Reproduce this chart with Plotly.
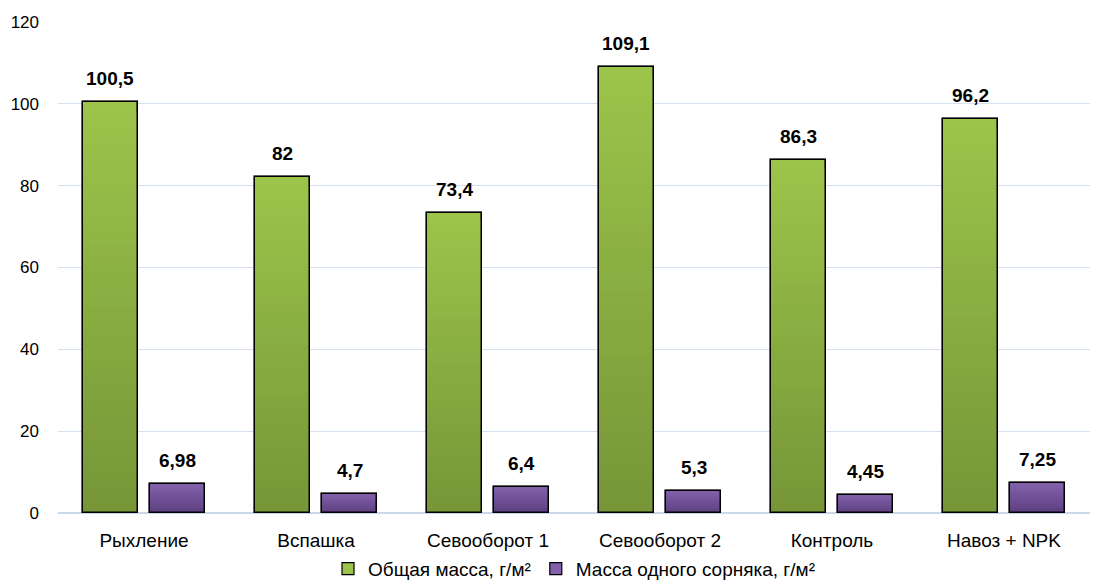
import plotly.graph_objects as go

categories = ["Рыхление", "Вспашка", "Севооборот 1", "Севооборот 2", "Контроль", "Навоз + NPK"]
total_mass = [100.5, 82, 73.4, 109.1, 86.3, 96.2]
single_weed_mass = [6.98, 4.7, 6.4, 5.3, 4.45, 7.25]
y_ticks = [0, 20, 40, 60, 80, 100, 120]

series = [
    dict(name="Общая масса, г/м²", values=total_mass,
         top=(156, 196, 74), bottom=(118, 150, 56), offset=-0.195),
    dict(name="Масса одного сорняка, г/м²", values=single_weed_mass,
         top=(130, 97, 170), bottom=(92, 63, 128), offset=0.195),
]

FONT = "Liberation Sans Narrow, Arial Narrow, Liberation Sans, Arial, sans-serif"
BAR_W = 0.32
N_STEPS = 40


def fmt(v):
    s = f"{v:g}"
    return s.replace(".", ",")


def mix(c1, c2, t):
    r, g, b = (round(a + (b_ - a) * t) for a, b_ in zip(c1, c2))
    return f"rgb({r},{g},{b})"


fig = go.Figure()

for s in series:
    off = s["offset"] - BAR_W / 2
    # vertical gradient: stacked-down overlays, lighter at top, darker near base
    for k in range(N_STEPS):
        frac = 1 - k / N_STEPS
        fig.add_trace(go.Bar(
            x=categories, y=[v * frac for v in s["values"]],
            width=BAR_W, offset=off,
            marker=dict(color=mix(s["top"], s["bottom"], k / (N_STEPS - 1)),
                        line=dict(width=1.2 if k == 0 else 0, color="#000000")),
            name=s["name"], showlegend=(k == 0), legendgroup=s["name"],
            hoverinfo="skip",
        ))
    # outline on top of the gradient slices
    fig.add_trace(go.Bar(
        x=categories, y=s["values"], width=BAR_W, offset=off,
        marker=dict(color="rgba(0,0,0,0)", line=dict(width=1.5, color="#000000")),
        name=s["name"], showlegend=False, legendgroup=s["name"],
    ))
    for c, v in zip(categories, s["values"]):
        fig.add_annotation(
            x=c, y=v, text=f"<b>{fmt(v)}</b>", showarrow=False,
            xshift=s["offset"] * 172, yshift=11, yanchor="bottom",
            font=dict(family=FONT, size=19, color="#000000"),
        )

fig.update_layout(
    width=1097, height=585,
    margin=dict(l=58, r=7, t=22, b=72, autoexpand=False),
    paper_bgcolor="white", plot_bgcolor="white",
    barmode="overlay",
    font=dict(family=FONT, size=16, color="#000000"),
    xaxis=dict(showgrid=False, showline=False, ticks="", zeroline=False,
               tickfont=dict(family=FONT, size=19), ticklabelstandoff=14,
               automargin=False),
    yaxis=dict(range=[0, 120], tickvals=y_ticks, showgrid=True,
               gridcolor="#D5E0F0", gridwidth=1.3, zeroline=True,
               zerolinecolor="#C9D7EC", zerolinewidth=1.5, showline=False,
               ticks="", tickfont=dict(family=FONT, size=17), ticklabelstandoff=18,
               automargin=False),
    legend=dict(orientation="h", x=0.5, xanchor="center", y=-0.075, yanchor="top",
                font=dict(family=FONT, size=19), itemwidth=30,
                bgcolor="rgba(0,0,0,0)",
                traceorder="normal", tracegroupgap=0),
    bargap=0, bargroupgap=0,
)

fig.write_html("out.html")
